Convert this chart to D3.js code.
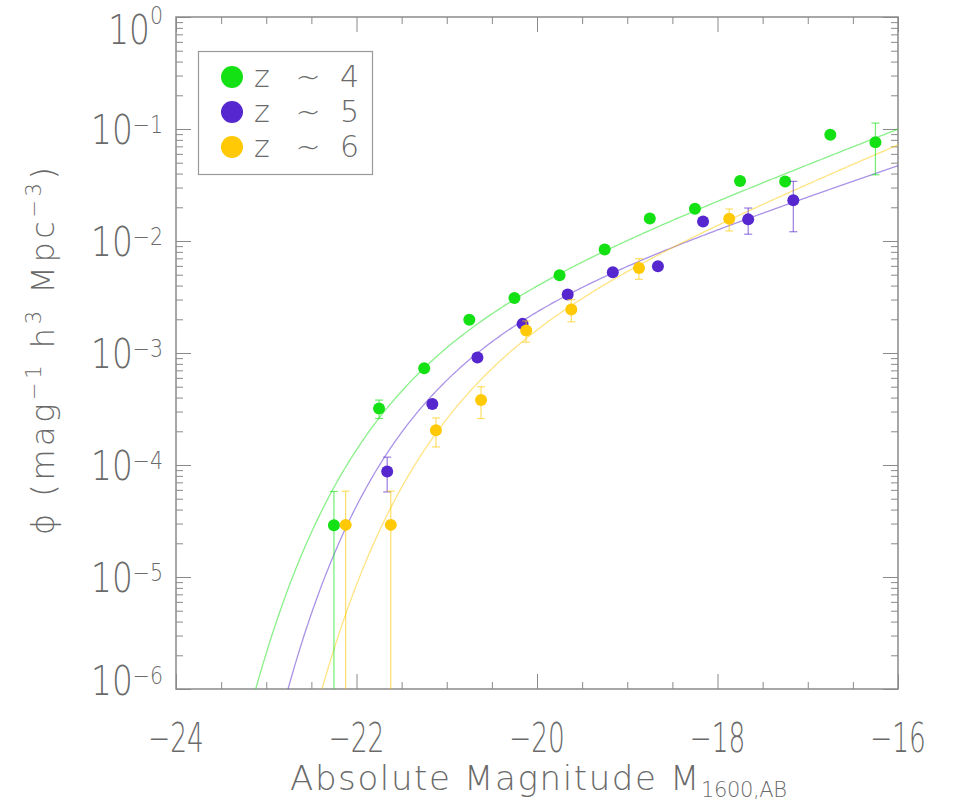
<!DOCTYPE html>
<html>
<head>
<meta charset="utf-8">
<script src="https://cdn.jsdelivr.net/npm/d3@7"></script>
<style>
  body { margin: 0; background: #fff; }
  svg { display: block; }
</style>
</head>
<body>
<div id="chart"></div>
<script>
// z~4 binned points: magnitude, phi, 1-sigma error
const z4Mag = [-22.25, -21.75, -21.25, -20.75, -20.25, -19.75, -19.25, -18.75, -18.25, -17.75, -17.25, -16.75, -16.25];
const z4Phi = [2.9e-5, 3.2e-4, 7.3e-4, 1.98e-3, 3.1e-3, 4.95e-3, 8.4e-3, 1.59e-2, 1.94e-2, 3.43e-2, 3.39e-2, 8.9e-2, 7.6e-2];
const z4Err = [2.9e-5, 6e-5, 5e-5, 1.2e-4, 1.8e-4, 2.5e-4, 4e-4, 8e-4, 1e-3, 1.6e-3, 2e-3, 4e-3, 3.7e-2];

// z~5
const z5Mag = [-21.66, -21.16, -20.66, -20.16, -19.66, -19.16, -18.66, -18.16, -17.66, -17.16];
const z5Phi = [8.75e-5, 3.5e-4, 9.1e-4, 1.82e-3, 3.33e-3, 5.26e-3, 5.96e-3, 1.49e-2, 1.56e-2, 2.31e-2];
const z5Err = [3.0e-5, 3e-5, 6e-5, 1.2e-4, 2e-4, 3e-4, 3e-4, 9e-4, 4.1e-3, 1.1e-2];

// z~6
const z6Mag = [-22.12, -21.62, -21.12, -20.62, -20.12, -19.62, -18.87, -17.87];
const z6Phi = [2.92e-5, 2.92e-5, 2.04e-4, 3.8e-4, 1.59e-3, 2.45e-3, 5.75e-3, 1.58e-2];
const z6Err = [2.92e-5, 2.92e-5, 5.9e-5, 1.2e-4, 3.4e-4, 5.5e-4, 1.2e-3, 3.5e-3];

// schechter fit parameters (z4, z5, z6)
const fitMstar = [-21.1, -20.72, -20.4];
const fitAlpha = [-1.78, -1.68, -1.85];
const fitPhiStar = [2.80e-3, 2.69e-3, 2.545e-3];

const legendRedshift = ["4", "5", "6"];
const seriesColors = ["#14e114", "#5627cf", "#ffc905"];

const xTickValues = [-24, -22, -20, -18, -16];
const yTickExps = [0, -1, -2, -3, -4, -5, -6];

const width = 954, height = 801;
const plotL = 176, plotR = 898, plotT = 17, plotB = 689;
const FONT = "'DejaVu Sans', sans-serif";
const axisGray = "#8a8a8a";
const textGray = "#6a6a6a";

const svg = d3.select("#chart").append("svg")
  .attr("width", width)
  .attr("height", height);

svg.append("rect").attr("width", width).attr("height", height).attr("fill", "#fff");

const x = d3.scaleLinear().domain([-24, -16]).range([plotL, plotR]);
const y = d3.scaleLog().domain([1e-6, 1]).range([plotB, plotT]);

svg.append("defs").append("clipPath").attr("id", "plotClip")
  .append("rect")
  .attr("x", plotL).attr("y", plotT)
  .attr("width", plotR - plotL).attr("height", plotB - plotT);

function schechter(M, phiStar, mStar, alpha) {
  const t = Math.pow(10, -0.4 * (M - mStar));
  return 0.4 * Math.LN10 * phiStar * Math.pow(t, alpha + 1) * Math.exp(-t);
}

const series = [
  { mag: z4Mag, phi: z4Phi, err: z4Err },
  { mag: z5Mag, phi: z5Phi, err: z5Err },
  { mag: z6Mag, phi: z6Phi, err: z6Err },
].map((s, i) => Object.assign(s, {
  color: seriesColors[i],
  mstar: fitMstar[i], alpha: fitAlpha[i], phistar: fitPhiStar[i],
}));

// ---- ticks ----
function drawTicks(axisGen, tx, ty) {
  const g = svg.append("g").attr("transform", `translate(${tx},${ty})`).call(axisGen);
  g.select(".domain").remove();
  g.selectAll(".tick line").attr("stroke", axisGray).attr("stroke-width", 1);
  g.selectAll(".tick text").remove();
}

const yMajor = yTickExps.map(e => Math.pow(10, e));
const yMinor = [];
yTickExps.slice(1).forEach(e => {
  for (let k = 2; k <= 9; k++) yMinor.push(k * Math.pow(10, e));
});
const xMinor = d3.range(-24, -15.99, 0.5).filter(v => !xTickValues.includes(v));

drawTicks(d3.axisLeft(y).tickValues(yMajor).tickSizeInner(-15).tickSizeOuter(0), plotL, 0);
drawTicks(d3.axisLeft(y).tickValues(yMinor).tickSizeInner(-7).tickSizeOuter(0), plotL, 0);
drawTicks(d3.axisRight(y).tickValues(yMajor).tickSizeInner(-15).tickSizeOuter(0), plotR, 0);
drawTicks(d3.axisRight(y).tickValues(yMinor).tickSizeInner(-7).tickSizeOuter(0), plotR, 0);
drawTicks(d3.axisBottom(x).tickValues(xTickValues).tickSizeInner(-15).tickSizeOuter(0), 0, plotB);
drawTicks(d3.axisBottom(x).tickValues(xMinor).tickSizeInner(-7).tickSizeOuter(0), 0, plotB);
drawTicks(d3.axisTop(x).tickValues(xTickValues).tickSizeInner(-15).tickSizeOuter(0), 0, plotT);
drawTicks(d3.axisTop(x).tickValues(xMinor).tickSizeInner(-7).tickSizeOuter(0), 0, plotT);

// frame
svg.append("rect")
  .attr("x", plotL).attr("y", plotT)
  .attr("width", plotR - plotL).attr("height", plotB - plotT)
  .attr("fill", "none").attr("stroke", axisGray).attr("stroke-width", 1.5);

// ---- curves ----
const plot = svg.append("g").attr("clip-path", "url(#plotClip)");
const magGrid = d3.range(-24, -15.99, 0.02);
const line = d3.line().x(d => x(d[0])).y(d => y(d[1]));

series.forEach(s => {
  const pts = magGrid.map(M => [M, schechter(M, s.phistar, s.mstar, s.alpha)]);
  plot.append("path")
    .attr("d", line(pts))
    .attr("fill", "none")
    .attr("stroke", s.color)
    .attr("stroke-opacity", 0.5)
    .attr("stroke-width", 1.3);
});

// ---- error bars + points ----
series.forEach(s => {
  const g = plot.append("g");
  s.mag.forEach((M, i) => {
    const hi = s.phi[i] + s.err[i];
    const lo = s.phi[i] - s.err[i];
    const cx = x(M);
    const yHi = y(hi);
    const yLo = lo > 1e-6 ? y(lo) : plotB + 2;
    g.append("line").attr("x1", cx).attr("x2", cx).attr("y1", yHi).attr("y2", yLo)
      .attr("stroke", s.color).attr("stroke-opacity", 0.6).attr("stroke-width", 1.2);
    g.append("line").attr("x1", cx - 4).attr("x2", cx + 4).attr("y1", yHi).attr("y2", yHi)
      .attr("stroke", s.color).attr("stroke-opacity", 0.6).attr("stroke-width", 1.2);
    if (lo > 1e-6) {
      g.append("line").attr("x1", cx - 4).attr("x2", cx + 4).attr("y1", yLo).attr("y2", yLo)
        .attr("stroke", s.color).attr("stroke-opacity", 0.6).attr("stroke-width", 1.2);
    }
  });
  g.selectAll("circle.pt")
    .data(s.mag.map((M, i) => [M, s.phi[i]]))
    .enter().append("circle")
    .attr("class", "pt")
    .attr("cx", d => x(d[0]))
    .attr("cy", d => y(d[1]))
    .attr("r", 6)
    .attr("fill", s.color);
});

// ---- tick labels ----
const txt = svg.append("g")
  .attr("font-family", FONT)
  .attr("font-weight", 200)
  .attr("fill", textGray);

xTickValues.forEach(v => {
  txt.append("text")
    .attr("transform", `translate(${x(v)},752) scale(0.66,1)`)
    .attr("text-anchor", "middle")
    .attr("font-size", 40)
    .text("\u2212" + Math.abs(v));
});

// 10^k labels: end labels are pulled inside the frame a little, like the original
yTickExps.forEach(e => {
  const shift = e === 0 ? 12 : (e === -6 ? -9 : 0);
  const base = y(Math.pow(10, e)) + 15 + shift;
  const t = txt.append("text")
    .attr("transform", `translate(163,${base}) scale(0.82,1)`)
    .attr("text-anchor", "end")
    .attr("font-size", 40);
  t.append("tspan").text("10");
  t.append("tspan").attr("dy", e === 0 ? -20 : -11).attr("font-size", 25)
    .text(e === 0 ? "0" : "\u2212" + Math.abs(e));
});

// ---- axis titles ----
const xTitle = txt.append("text")
  .attr("x", 290).attr("y", 790)
  .attr("font-size", 34)
  .attr("textLength", 495)
  .attr("lengthAdjust", "spacing");
xTitle.append("tspan").text("Absolute Magnitude M");
xTitle.append("tspan").attr("dy", 7).attr("font-size", 21).attr("letter-spacing", -2).text("1600,AB");

const yTitle = txt.append("text")
  .attr("transform", "translate(54,0) rotate(-90)")
  .attr("x", -535)
  .attr("font-size", 32)
  .attr("textLength", 368)
  .attr("lengthAdjust", "spacing")
  .attr("xml:space", "preserve");
yTitle.append("tspan").text("\u03d5 (mag");
yTitle.append("tspan").attr("dy", -13).attr("font-size", 21).text("\u22121");
yTitle.append("tspan").attr("dy", 13).attr("font-size", 32).text(" h");
yTitle.append("tspan").attr("dy", -13).attr("font-size", 21).text("3");
yTitle.append("tspan").attr("dy", 13).attr("font-size", 32).text(" Mpc");
yTitle.append("tspan").attr("dy", -13).attr("font-size", 21).text("\u22123");
yTitle.append("tspan").attr("dy", 13).attr("font-size", 32).text(")");

// ---- legend ----
const lg = svg.append("g");
lg.append("rect")
  .attr("x", 198.5).attr("y", 51.5)
  .attr("width", 174).attr("height", 123)
  .attr("fill", "#fff").attr("stroke", "#999").attr("stroke-width", 1.2);

const legendRowY = [77, 112, 147];
legendRedshift.forEach((zv, i) => {
  const cy = legendRowY[i];
  lg.append("circle").attr("cx", 232).attr("cy", cy).attr("r", 11).attr("fill", seriesColors[i]);
  const t = lg.append("g")
    .attr("font-family", FONT).attr("font-weight", 200)
    .attr("fill", textGray).attr("font-size", 30);
  t.append("text").attr("x", 254).attr("y", cy + 10).text("z");
  t.append("text").attr("x", 308).attr("y", cy + 10).attr("text-anchor", "middle").text("~");
  t.append("text").attr("x", 340).attr("y", cy + 10).text(zv);
});
</script>
</body>
</html>
